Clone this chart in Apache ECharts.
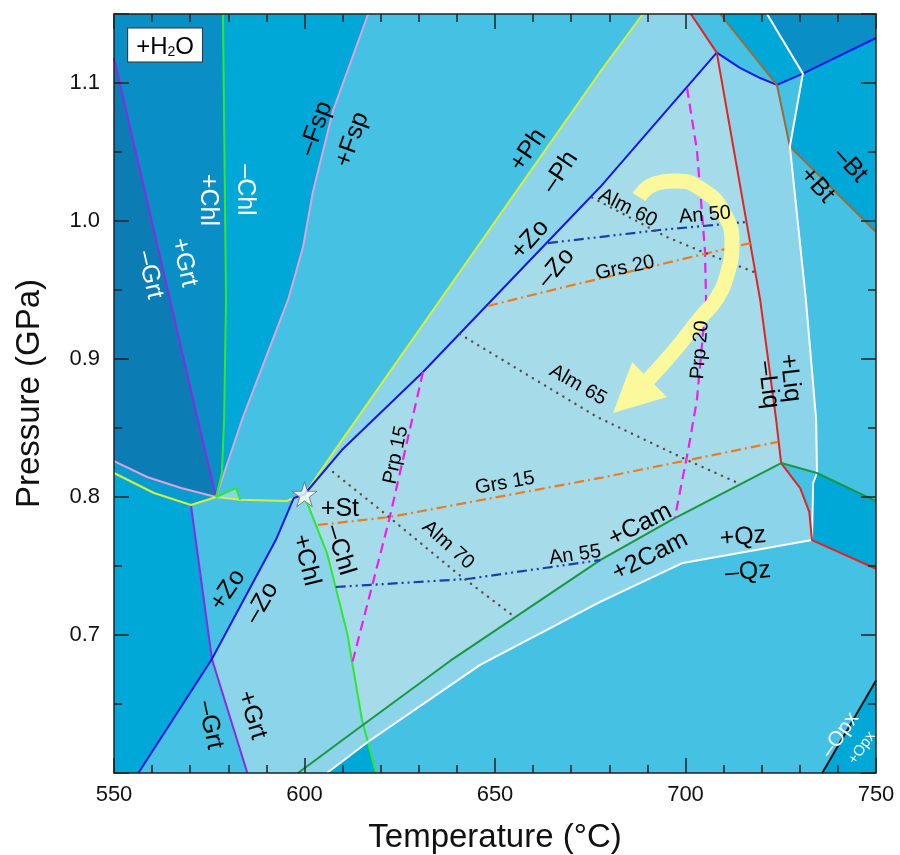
<!DOCTYPE html>
<html><head><meta charset="utf-8">
<script src="https://cdn.jsdelivr.net/npm/echarts@6/dist/echarts.min.js"></script>
<style>html,body{margin:0;padding:0;background:#fff}#c{width:900px;height:855px}</style>
</head><body><div id="c"></div>
<script>
const FONT = '"Liberation Sans", Arial, Helvetica, sans-serif';
// ---- axes ----
const xTicks = [550, 600, 650, 700, 750];
const yTicks = [0.7, 0.8, 0.9, 1.0, 1.1];

// ---- phase boundaries (T in °C, P in GPa) ----
const grtUpper = [[550,1.118],[572,0.856],[576.8,0.800]];
const grtLower = [[570.2,0.7942],[575.7,0.6826],[585.0,0.6]];
const chlUpper = [[578.6,1.15],[579.4,0.943],[578.9,0.856],[578.3,0.817],[576.8,0.800]];
const chlTri   = [[576.8,0.800],[582.0,0.8065],[583.1,0.798]];
const chlLower = [[600,0.802],[600.7,0.7957],[605.9,0.7594],[611.2,0.7014],[615.1,0.6384],[618.8,0.6]];
const fspUpper = [[576.8,0.800],[583.6,0.856],[595.7,0.943],[599.6,0.981],[602.2,1.021],[607.5,1.080],[616.7,1.15]];
const fspLower = [[550,0.826],[558.7,0.8145],[567.6,0.8065],[576.8,0.800]];
const phLower  = [[550,0.8174],[560.5,0.8029],[570.2,0.7942],[576.8,0.800],[583.1,0.798],[595.4,0.7971],[597.8,0.800],[600,0.802]];
const phUpper  = [[600,0.802],[608,0.834],[663.1,1.051],[677.6,1.108],[688.8,1.15]];
const zoUpper  = [[600,0.802],[609.8,0.834],[631.1,0.8906],[677.6,1.0246],[708.2,1.122]];
const zoLower  = [[600,0.802],[597.2,0.7993],[592.5,0.769],[575.7,0.6826],[556.4,0.6]];
const zoRight  = [[708.2,1.122],[714.3,1.1109],[719.6,1.1036],[724.0,1.0986],[730.8,1.1068],[750,1.1326]];
const liqLine  = [[701.4,1.15],[708.2,1.122],[719.6,0.9428],[723.8,0.8558],[725.1,0.8246],[730.1,0.8065],[732.5,0.7891],[733.2,0.7688],[750,0.748]];
const btLine   = [[709.1,1.15],[724.0,1.0986],[727.4,1.054],[750,0.992]];
const qzRight  = [[721.4,1.15],[730.8,1.1068],[727.4,1.054],[731.6,0.9428],[734.3,0.8558],[734.5,0.8174],[733.5,0.81],[733.2,0.7688]];
const qzLower  = [[733.2,0.7688],[699.3,0.7522],[677.6,0.724],[646.1,0.6783],[616.6,0.6225],[605.9,0.6]];
const camLine  = [[598.3,0.6],[615.4,0.635],[638.2,0.6812],[677.6,0.7543],[696.7,0.784],[725.1,0.8246],[734.5,0.8174],[750,0.797]];
const opxLine  = [[750,0.667],[735.9,0.6]];

// ---- field polygons ----
const fieldA   = [[550,1.118],[572,0.856],[576.8,0.800],[567.6,0.8065],[558.7,0.8145],[550,0.826]];
const fieldB   = [[550,1.15],[578.6,1.15],[579.4,0.943],[578.9,0.856],[578.3,0.817],[576.8,0.800],[572,0.856],[550,1.118]];
const fieldC   = [[578.6,1.15],[616.7,1.15],[607.5,1.080],[602.2,1.021],[599.6,0.981],[595.7,0.943],[583.6,0.856],[576.8,0.800],[578.3,0.817],[578.9,0.856],[579.4,0.943]];
const fieldD   = [[616.7,1.15],[688.8,1.15],[677.6,1.108],[663.1,1.051],[608,0.834],[600,0.802],[597.8,0.800],[595.4,0.7971],[583.1,0.798],[576.8,0.800],[583.6,0.856],[595.7,0.943],[599.6,0.981],[602.2,1.021],[607.5,1.080]];
const fieldA2  = [[550,0.826],[558.7,0.8145],[567.6,0.8065],[576.8,0.800],[570.2,0.7942],[560.5,0.8029],[550,0.8174]];
const fieldK   = [[550,0.8174],[560.5,0.8029],[570.2,0.7942],[575.7,0.6826],[556.4,0.6],[550,0.6]];
const fieldL   = [[570.2,0.7942],[576.8,0.800],[583.1,0.798],[595.4,0.7971],[597.8,0.800],[600,0.802],[597.2,0.7993],[592.5,0.769],[575.7,0.6826]];
const fieldM   = [[575.7,0.6826],[556.4,0.6],[585.0,0.6]];
const fieldG   = [[600,0.802],[600.7,0.7957],[605.9,0.7594],[611.2,0.7014],[615.1,0.6384],[616.6,0.6225],[605.9,0.6],[585.0,0.6],[575.7,0.6826],[592.5,0.769],[597.2,0.7993]];
const fieldN   = [[605.9,0.6],[616.6,0.6225],[618.8,0.6]];
const fieldF   = [[600,0.802],[609.8,0.834],[631.1,0.8906],[677.6,1.0246],[708.2,1.122],[719.6,0.9428],[723.8,0.8558],[725.1,0.8246],[696.7,0.784],[677.6,0.7543],[638.2,0.6812],[615.4,0.635],[615.1,0.6384],[611.2,0.7014],[605.9,0.7594],[600.7,0.7957]];
const fieldH   = [[615.4,0.635],[638.2,0.6812],[677.6,0.7543],[696.7,0.784],[725.1,0.8246],[730.1,0.8065],[732.5,0.7891],[733.2,0.7688],[699.3,0.7522],[677.6,0.724],[646.1,0.6783],[616.6,0.6225]];
const fieldTri = [[725.1,0.8246],[734.5,0.8174],[733.5,0.81],[733.2,0.7688],[732.5,0.7891],[730.1,0.8065]];
const fieldBox = [[734.5,0.8174],[750,0.797],[750,0.748],[733.2,0.7688],[733.5,0.81]];
const fieldBot = [[616.6,0.6225],[646.1,0.6783],[677.6,0.724],[699.3,0.7522],[733.2,0.7688],[750,0.748],[750,0.667],[735.9,0.6],[618.8,0.6]];
const fieldOpx = [[750,0.667],[750,0.6],[735.9,0.6]];
const fieldE   = [[600,0.802],[608,0.834],[663.1,1.051],[677.6,1.108],[688.8,1.15],[701.4,1.15],[708.2,1.122],[677.6,1.0246],[631.1,0.8906],[609.8,0.834]];
const fieldLiq = [[708.2,1.122],[714.3,1.1109],[719.6,1.1036],[724.0,1.0986],[727.4,1.054],[731.6,0.9428],[734.3,0.8558],[734.5,0.8174],[725.1,0.8246],[723.8,0.8558],[719.6,0.9428]];
const fieldT1  = [[701.4,1.15],[709.1,1.15],[724.0,1.0986],[719.6,1.1036],[714.3,1.1109],[708.2,1.122]];
const fieldT2  = [[709.1,1.15],[721.4,1.15],[730.8,1.1068],[724.0,1.0986]];
const fieldT3  = [[721.4,1.15],[750,1.15],[750,1.1326],[730.8,1.1068]];
const fieldTm  = [[724.0,1.0986],[730.8,1.1068],[727.4,1.054]];
const fieldR1  = [[730.8,1.1068],[750,1.1326],[750,0.992],[727.4,1.054]];
const fieldR2  = [[727.4,1.054],[750,0.992],[750,0.797],[734.5,0.8174],[734.3,0.8558],[731.6,0.9428]];

// ---- isopleths ----
const prp15 = [[631.1,0.8906],[622.4,0.7855],[612.4,0.6783]];
const prp20 = [[700.4,1.0964],[703.0,1.0514],[705.1,0.979],[705.4,0.9428],[703.0,0.8703],[700.7,0.834],[697.2,0.7848]];
const grs20 = [[648.2,0.9385],[667.1,0.9514],[717.0,0.984]];
const grs15 = [[603.5,0.7797],[622.4,0.7855],[677.6,0.8138],[724.3,0.84]];
const an50  = [[663.9,0.984],[693.3,0.9935],[716.1,0.9993]];
const an55  = [[608.2,0.7348],[642.7,0.7406],[677.6,0.7543]];
const alm60 = [[675.5,1.017],[695.1,0.9884],[704.6,0.9775],[718.0,0.963]];
const alm65 = [[640.8,0.918],[676.8,0.858],[700.4,0.8268],[714.3,0.8095]];
const alm70 = [[607.5,0.8181],[620.6,0.7891],[640.0,0.7449],[655.2,0.713]];

// ---- P-T path arrow ----
const ptPath = [[687.8,1.0174],[692.0,1.027],[697.8,1.029],[704.5,1.0225],[709.8,1.007],[712.2,0.984],[711.0,0.962],[708.0,0.943],[704.1,0.9304],[697.2,0.9065],[690.2,0.8848]];
const ptHead = [[686.0,0.8978],[695.1,0.8725],[681.0,0.8609]];
const starPoint = [[600,0.802]];

// ---- labels: text, T, P, rotation(deg), colour, size ----
const phaseLabels = [
  ['–Grt',559.4,0.961,-77,'#ffffff',25],
  ['+Grt',568.4,0.970,-77,'#ffffff',25],
  ['+Chl',574.7,1.0152,-90,'#ffffff',25],
  ['–Chl',584.4,1.0225,-90,'#ffffff',25],
  ['–Fsp',603.0,1.067,70,'#000000',25],
  ['+Fsp',612.5,1.059,70,'#000000',25],
  ['+Ph',658.7,1.0514,56,'#000000',25],
  ['–Ph',667.1,1.0355,56,'#000000',25],
  ['+Zo',659.2,0.9865,48,'#000000',25],
  ['–Zo',666.0,0.966,50,'#000000',25],
  ['+St',609.3,0.7913,0,'#000000',25],
  ['+Zo',579.9,0.7326,56,'#000000',25],
  ['–Zo',588.8,0.7232,60,'#000000',25],
  ['+Chl',600.4,0.7543,-76,'#000000',25],
  ['–Chl',609.3,0.7616,-73,'#000000',25],
  ['–Grt',575.2,0.6348,-78,'#000000',25],
  ['+Grt',586.2,0.642,-73,'#000000',25],
  ['+Cam',688.1,0.7797,27,'#000000',25],
  ['+2Cam',690.7,0.7572,27,'#000000',25],
  ['+Qz',715.1,0.771,5,'#000000',25],
  ['–Qz',716.4,0.7457,5,'#000000',25],
  ['–Liq',721.7,0.8812,-83,'#000000',25],
  ['+Liq',727.4,0.8862,-83,'#000000',25],
  ['–Bt',743.2,1.0406,-48,'#000000',25],
  ['+Bt',734.5,1.0261,-48,'#000000',25],
  ['–Opx',740.6,0.6275,55,'#ffffff',21],
  ['+Opx',746.3,0.6181,55,'#ffffff',15],
  ['Alm 60',684.9,1.0094,-27,'#000000',20],
  ['An 50',705.1,1.0043,5,'#000000',20],
  ['Grs 20',684.1,0.966,12,'#000000',20],
  ['Alm 65',671.8,0.8812,-30,'#000000',20],
  ['Prp 20',703.8,0.9065,85,'#000000',20],
  ['Prp 15',624.0,0.8304,78,'#000000',20],
  ['Grs 15',652.6,0.81,10,'#000000',20],
  ['Alm 70',637.7,0.7652,-42,'#000000',20],
  ['An 55',671.0,0.758,8,'#000000',20]
];
const boxLabel = [563.4, 1.1275];

// ---- palette ----
const cDark = '#0b7db4', cDark2 = '#0a8ec6', cMid = '#00a8d8', cMid2 = '#069ccf',
      cLight = '#45c1e3', cPale = '#8bd4ea', cPalest = '#a6dcea';

const fills = [
  [fieldA,cDark],[fieldB,cDark2],[fieldC,cMid],[fieldD,cLight],[fieldA2,cMid2],
  [fieldK,cMid],[fieldL,cLight],[fieldM,cLight],[fieldG,cPale],[fieldN,cMid],
  [fieldF,cPalest],[fieldH,cPale],[fieldTri,cLight],[fieldBox,cMid],[fieldBot,cLight],
  [fieldOpx,cMid],[fieldE,cPale],[fieldLiq,cPale],[fieldT1,cLight],[fieldT2,cMid],
  [fieldT3,cDark2],[fieldTm,cLight],[fieldR1,cMid],[fieldR2,cLight],[chlTri,cPale]
];

function lineSeries(data, color, width, type, cap){
  return {type:'line', data:data, showSymbol:false, symbol:'none', silent:true, z:3, clip:true,
    lineStyle:{color:color, width:width, type:type||'solid', cap:cap||'butt'}, animation:false};
}

const chart = echarts.init(document.getElementById('c'), null, {renderer:'canvas'});
const axisCommon = {
  type:'value', splitLine:{show:false}, z:20,
  axisLine:{show:true, lineStyle:{color:'#222', width:1.5}},
  axisTick:{show:true, inside:true, length:15, lineStyle:{color:'#222', width:1.5}},
  minorTick:{show:true, length:8, lineStyle:{color:'#222', width:1.5}}
};
const isTick = (arr, v) => arr.some(t => Math.abs(t - v) < 1e-6);

const series = [];
series.push({
  type:'custom', silent:true, z:1, clip:true, animation:false,
  data: fills.map(f => f[0][0]),
  renderItem: function(params, api){
    const f = fills[params.dataIndex];
    const pts = f[0].map(p => api.coord(p));
    return {type:'polygon', shape:{points:pts}, style:{fill:f[1], stroke:f[1], lineWidth:0.8}};
  }
});
// boundaries
const cPurple='#8a2be2', cGreen='#2ee82e', cPink='#dea2dc', cYellow='#d4ef3c', cBlue='#1717e6',
      cRed='#e52222', cBrown='#9b6b3c', cWhite='#ffffff', cCam='#1c9640', cBlack='#111111';
[[grtUpper,cPurple],[grtLower,cPurple],[fspLower,cPink],[fspUpper,cPink],[phLower,cYellow],
 [chlUpper,cGreen],[chlTri,cGreen],[chlLower,cGreen],[phUpper,cYellow],
 [zoUpper,cBlue],[zoLower,cBlue],[zoRight,cBlue],[btLine,cBrown],[qzRight,cWhite],[qzLower,cWhite],
 [liqLine,cRed],[camLine,cCam],[opxLine,cBlack]].forEach(d => series.push(lineSeries(d[0], d[1], 2)));
// isopleths
series.push(lineSeries(prp15,'#f01cf0',2.2,[10,6]));
series.push(lineSeries(prp20,'#f01cf0',2.2,[10,6]));
series.push(lineSeries(grs20,'#f07a1c',2.2,[10,4,2,4]));
series.push(lineSeries(grs15,'#f07a1c',2.2,[10,4,2,4]));
series.push(lineSeries(an50,'#1a40a8',2.2,[10,4,2,4,2,4]));
series.push(lineSeries(an55,'#1a40a8',2.2,[10,4,2,4,2,4]));
series.push(lineSeries(alm60,'#5a4848',2.4,[0.1,7],'round'));
series.push(lineSeries(alm65,'#5a4848',2.4,[0.1,7],'round'));
series.push(lineSeries(alm70,'#5a4848',2.4,[0.1,7],'round'));
// P-T path
const ptSeries = lineSeries(ptPath,'#fcf89c',15);
ptSeries.smooth = true; ptSeries.z = 4;
series.push(ptSeries);
series.push({
  type:'custom', silent:true, z:4, clip:true, animation:false,
  data:[ptHead[0]],
  renderItem: function(params, api){
    return {type:'polygon', shape:{points: ptHead.map(p => api.coord(p))}, style:{fill:'#fcf89c'}};
  }
});
// labels
series.push({
  type:'custom', silent:true, z:6, clip:false, animation:false,
  data: phaseLabels.map(l => [l[1], l[2]]),
  renderItem: function(params, api){
    const L = phaseLabels[params.dataIndex];
    const p = api.coord([L[1], L[2]]);
    return {type:'text', x:p[0], y:p[1], rotation:L[3]*Math.PI/180,
      style:{text:L[0], fill:L[4], fontSize:L[5], fontFamily:FONT, align:'center', verticalAlign:'middle'}};
  }
});
series.push({
  type:'custom', silent:true, z:6, clip:false, animation:false,
  data:[boxLabel],
  renderItem: function(params, api){
    const p = api.coord(boxLabel);
    return {type:'text', x:p[0], y:p[1],
      style:{text:'{a|+H}{b|2}{a|O}', align:'center', verticalAlign:'middle',
        backgroundColor:'#ffffff', borderColor:'#333', borderWidth:1, padding:[3,8,2,8],
        rich:{a:{fontSize:24, fontFamily:FONT, fill:'#000', lineHeight:28, verticalAlign:'bottom'},
              b:{fontSize:14, fontFamily:FONT, fill:'#000', lineHeight:14, verticalAlign:'bottom'}}}};
  }
});
// star
series.push({
  type:'scatter', data:starPoint, z:7, silent:true, animation:false,
  symbol:'path://M50,0 L61.2,34.5 L97.6,34.5 L68.2,55.9 L79.4,90.5 L50,69.1 L20.6,90.5 L31.8,55.9 L2.4,34.5 L38.8,34.5 Z',
  symbolSize:25, itemStyle:{color:'#ffffff', borderColor:'#666', borderWidth:1}
});

chart.setOption({
  animation:false,
  backgroundColor:'#ffffff',
  grid:{left:114, right:24, top:14, bottom:82, containLabel:false, outerBoundsMode:'none',
        show:true, backgroundColor:cLight, borderWidth:0},
  xAxis:[
    Object.assign({}, axisCommon, {position:'bottom', min:550, max:750, interval:50,
      minorTick:Object.assign({}, axisCommon.minorTick, {splitNumber:5}),
      axisLabel:{show:true, fontSize:22, color:'#111', fontFamily:FONT, margin:11,
        formatter: v => isTick(xTicks, v) ? String(v) : ''},
      name:'Temperature (°C)', nameLocation:'middle', nameGap:48,
      nameTextStyle:{fontSize:33, color:'#111', fontFamily:FONT}}),
    Object.assign({}, axisCommon, {position:'top', min:550, max:750, interval:50,
      minorTick:Object.assign({}, axisCommon.minorTick, {splitNumber:5}),
      axisLabel:{show:false}})
  ],
  yAxis:[
    Object.assign({}, axisCommon, {position:'left', min:0.6, max:1.15, interval:0.1,
      minorTick:Object.assign({}, axisCommon.minorTick, {splitNumber:2}),
      axisLabel:{show:true, fontSize:22, color:'#111', fontFamily:FONT, margin:14,
        formatter: v => isTick(yTicks, v) ? v.toFixed(1) : ''},
      name:'Pressure (GPa)', nameLocation:'middle', nameRotate:90, nameGap:68,
      nameTextStyle:{fontSize:33, color:'#111', fontFamily:FONT}}),
    Object.assign({}, axisCommon, {position:'right', min:0.6, max:1.15, interval:0.1,
      minorTick:Object.assign({}, axisCommon.minorTick, {splitNumber:2}),
      axisLabel:{show:false}})
  ],
  series: series
});
</script></body></html>
